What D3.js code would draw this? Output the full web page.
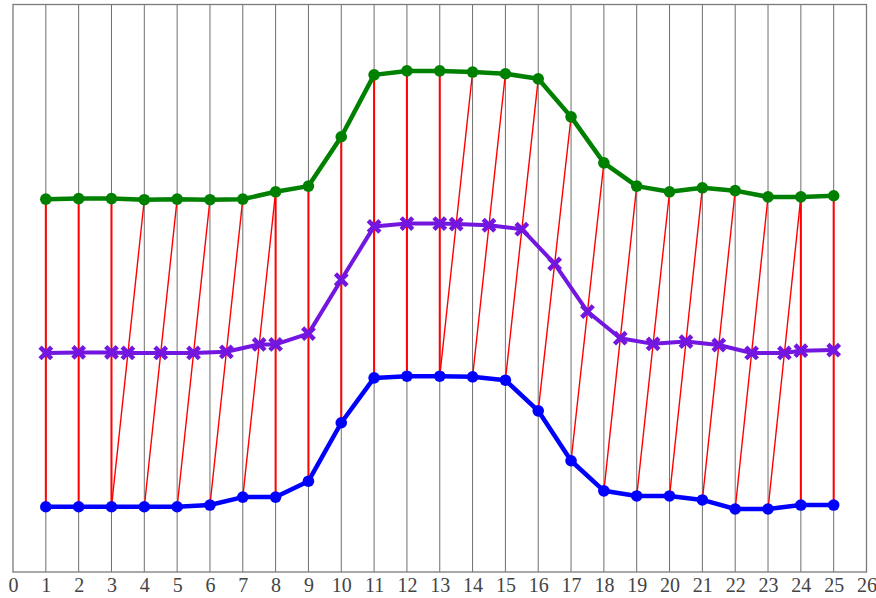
<!DOCTYPE html>
<html>
<head>
<meta charset="utf-8">
<script src="https://cdn.jsdelivr.net/npm/d3@7"></script>
<style>
  body { margin: 0; background: #fff; }
  svg { display: block; }
</style>
</head>
<body>
<script>
// dimensions
var width = 876;
var height = 598;

var margin = {
    top: 4.5,
    bottom: 26,
    left: 13,
    right: 9.5
};

// data
var xTicks = d3.range(0, 27);
var steps = d3.range(1, 26);

var greenValues = [6.57, 6.58, 6.58, 6.56, 6.57, 6.56, 6.57, 6.70, 6.80, 7.67,
    8.76, 8.83, 8.83, 8.81, 8.78, 8.69, 8.02, 7.21, 6.80, 6.70,
    6.77, 6.72, 6.61, 6.61, 6.63];

var blueValues = [1.15, 1.15, 1.15, 1.15, 1.15, 1.18, 1.32, 1.32, 1.60, 2.63,
    3.42, 3.45, 3.45, 3.44, 3.38, 2.84, 1.96, 1.43, 1.34, 1.34,
    1.27, 1.11, 1.11, 1.18, 1.18];

// warping path: which green step is matched with which blue step
var pathGreen = [1, 2, 3, 4, 5, 6, 7, 8, 8, 9, 10, 11, 12, 13, 14, 15, 16, 17, 18, 19, 20, 21, 22, 23, 24, 24, 25];
var pathBlue  = [1, 2, 3, 3, 4, 5, 6, 7, 8, 9, 10, 11, 12, 13, 13, 14, 15, 16, 17, 18, 19, 20, 21, 22, 23, 24, 25];

var purpleX = [1, 2, 3, 3.5, 4.5, 5.5, 6.5, 7.5, 8, 9, 10, 11, 12, 13, 13.5, 14.5,
    15.5, 16.5, 17.5, 18.5, 19.5, 20.5, 21.5, 22.5, 23.5, 24, 25];
var purpleValues = [3.86, 3.87, 3.87, 3.86, 3.86, 3.86, 3.88, 4.01, 4.01, 4.20, 5.15,
    6.09, 6.14, 6.14, 6.13, 6.11, 6.04, 5.43, 4.59, 4.12, 4.02, 4.06, 4.00,
    3.86, 3.86, 3.90, 3.91];

var svg = d3.select("body")
    .append("svg")
    .attr("width", width)
    .attr("height", height);

var innerW = width - margin.left - margin.right;
var innerH = height - margin.top - margin.bottom;

var g = svg.append("g")
    .attr("transform", "translate(" + margin.left + "," + margin.top + ")");

var x = d3.scaleLinear().domain([0, 26]).range([0, innerW]);
var y = d3.scaleLinear().domain([0, 10]).range([innerH, 0]);

// vertical grid
g.selectAll(".grid")
    .data(steps)
    .enter()
    .append("line")
    .attr("class", "grid")
    .attr("x1", function(d) { return x(d); })
    .attr("x2", function(d) { return x(d); })
    .attr("y1", 0)
    .attr("y2", innerH)
    .attr("stroke", "#6e6e6e")
    .attr("stroke-width", 1);

// frame
g.append("rect")
    .attr("x", 0)
    .attr("y", 0)
    .attr("width", innerW)
    .attr("height", innerH)
    .attr("fill", "none")
    .attr("stroke", "#7a7a7a")
    .attr("stroke-width", 1.3);

// x axis labels
var xAxis = d3.axisBottom(x)
    .tickValues(xTicks)
    .tickSize(0)
    .tickPadding(6)
    .tickFormat(d3.format("d"));

var ax = g.append("g")
    .attr("transform", "translate(0," + innerH + ")")
    .call(xAxis);
ax.select(".domain").remove();
ax.selectAll("text")
    .attr("font-family", "'Liberation Serif', 'DejaVu Serif', serif")
    .attr("font-size", 20)
    .attr("fill", "#444");

// alignment links between green and blue
var links = pathGreen.map(function(gi, k) {
    return { g: gi, b: pathBlue[k] };
});

g.selectAll(".link")
    .data(links)
    .enter()
    .append("line")
    .attr("class", "link")
    .attr("x1", function(d) { return x(d.g); })
    .attr("y1", function(d) { return y(greenValues[d.g - 1]); })
    .attr("x2", function(d) { return x(d.b); })
    .attr("y2", function(d) { return y(blueValues[d.b - 1]); })
    .attr("stroke", "#ff0000")
    .attr("stroke-width", function(d) { return d.g == d.b ? 2 : 1.4; });

var line = d3.line()
    .x(function(d) { return x(d[0]); })
    .y(function(d) { return y(d[1]); });

function drawSeries(xs, vals, color, lw) {
    var pts = xs.map(function(v, i) { return [v, vals[i]]; });
    g.append("path")
        .datum(pts)
        .attr("d", line)
        .attr("fill", "none")
        .attr("stroke", color)
        .attr("stroke-width", lw)
        .attr("stroke-linejoin", "round");
    return pts;
}

var greenPts = drawSeries(steps, greenValues, "#008000", 4.5);
g.selectAll(".gdot")
    .data(greenPts)
    .enter()
    .append("circle")
    .attr("cx", function(d) { return x(d[0]); })
    .attr("cy", function(d) { return y(d[1]); })
    .attr("r", 5.8)
    .attr("fill", "#008000");

var bluePts = drawSeries(steps, blueValues, "#0000ff", 4.5);
g.selectAll(".bdot")
    .data(bluePts)
    .enter()
    .append("circle")
    .attr("cx", function(d) { return x(d[0]); })
    .attr("cy", function(d) { return y(d[1]); })
    .attr("r", 5.8)
    .attr("fill", "#0000ff");

var purplePts = drawSeries(purpleX, purpleValues, "#7216e0", 4);
var s = 5.8;
g.selectAll(".pmark")
    .data(purplePts)
    .enter()
    .append("path")
    .attr("d", function(d) {
        var cx = x(d[0]), cy = y(d[1]);
        return "M" + (cx - s) + "," + (cy - s) + "L" + (cx + s) + "," + (cy + s) +
            "M" + (cx - s) + "," + (cy + s) + "L" + (cx + s) + "," + (cy - s);
    })
    .attr("stroke", "#7216e0")
    .attr("stroke-width", 4.5)
    .attr("fill", "none");
</script>
</body>
</html>
